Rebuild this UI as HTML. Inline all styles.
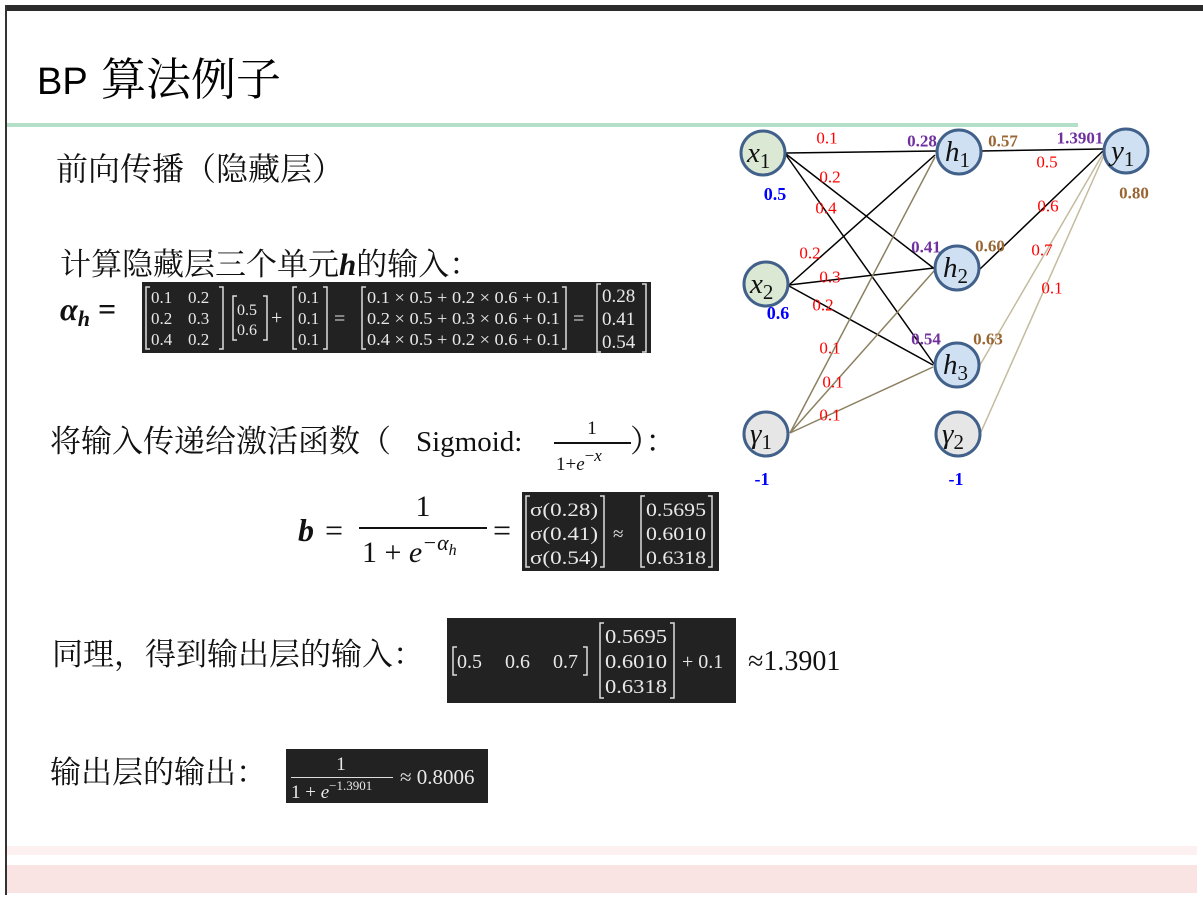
<!DOCTYPE html>
<html><head><meta charset="utf-8">
<style>
html,body{margin:0;padding:0;background:#fff;width:1203px;height:900px;overflow:hidden}
svg{display:block}
.cj{font-family:"Noto Serif CJK SC","Liberation Serif",serif;fill:#111}
.m{font-family:"Liberation Serif","DejaVu Serif",serif;fill:#e8e8e8}
.mk{font-family:"Liberation Serif","DejaVu Serif",serif;fill:#111}
.r{fill:#ff0000;font-family:"Liberation Serif",serif;font-size:17px}
.p{fill:#7030a0;font-family:"Liberation Serif",serif;font-size:17px;font-weight:bold}
.b{fill:#996633;font-family:"Liberation Serif",serif;font-size:17px;font-weight:bold}
.bl{fill:#0000ff;font-family:"Liberation Serif",serif;font-size:18px;font-weight:bold}
.nd{font-family:"Liberation Serif",serif;font-style:italic;fill:#111}
</style></head><body>
<svg width="1203" height="900" viewBox="0 0 1203 900">
<rect x="5" y="5" width="1198" height="6" fill="#2b2b2b"/>
<rect x="5" y="5" width="2" height="890" fill="#333"/>
<rect x="7" y="123" width="1071" height="4" fill="#b4dfc8"/>
<rect x="7" y="846" width="1190" height="9" fill="#fdf0f0"/>
<rect x="7" y="865" width="1190" height="28" fill="#f9e3e3"/>
<text x="37" y="94" font-size="38" font-family="Liberation Sans,sans-serif" fill="#000">BP</text>
<text x="101" y="95" font-size="45" font-family="'Noto Serif CJK SC',serif" fill="#000">算法例子</text>

<text class="cj" x="56" y="180" font-size="32">前向传播（隐藏层）</text>
<text class="cj" x="60" y="275" font-size="31">计算隐藏层三个单元<tspan font-family="Liberation Serif,serif" font-weight="bold" font-style="italic">h</tspan>的输入：</text>
<text class="mk" x="60" y="320" font-size="32" font-weight="bold" font-style="italic">α<tspan font-size="22" dy="6">h</tspan><tspan dy="-6" font-style="normal"> =</tspan></text>

<rect x="142" y="282" width="509" height="71" fill="#222"/>
<g class="m" font-size="17">
<path d="M150 287h-4v62h4M219 287h4v62h-4" stroke="#ddd" stroke-width="1.5" fill="none"/>
<text x="151" y="303">0.1</text><text x="188" y="303">0.2</text>
<text x="151" y="324">0.2</text><text x="188" y="324">0.3</text>
<text x="151" y="345">0.4</text><text x="188" y="345">0.2</text>
<path d="M237 296h-4v44h4M263 296h4v44h-4" stroke="#ddd" stroke-width="1.5" fill="none"/>
<text x="237" y="315" font-size="16">0.5</text><text x="237" y="335" font-size="16">0.6</text>
<text x="271" y="324" font-size="20">+</text>
<path d="M297 287h-4v62h4M323 287h4v62h-4" stroke="#ddd" stroke-width="1.5" fill="none"/>
<text x="298" y="303">0.1</text><text x="298" y="324">0.1</text><text x="298" y="345">0.1</text>
<text x="334" y="325" font-size="20">=</text>
<path d="M366 287h-4v62h4M562 287h4v62h-4" stroke="#ddd" stroke-width="1.5" fill="none"/>
<text x="367" y="303" textLength="193" lengthAdjust="spacingAndGlyphs">0.1 × 0.5 + 0.2 × 0.6 + 0.1</text>
<text x="367" y="324" textLength="193" lengthAdjust="spacingAndGlyphs">0.2 × 0.5 + 0.3 × 0.6 + 0.1</text>
<text x="367" y="345" textLength="193" lengthAdjust="spacingAndGlyphs">0.4 × 0.5 + 0.2 × 0.6 + 0.1</text>
<text x="573" y="325" font-size="20">=</text>
<path d="M601 284h-4v68h4M642 284h4v68h-4" stroke="#ddd" stroke-width="1.5" fill="none"/>
<text x="602" y="302" font-size="19">0.28</text><text x="602" y="325" font-size="19">0.41</text><text x="602" y="348" font-size="19">0.54</text>
</g>

<text class="cj" x="50" y="452" font-size="31">将输入传递给激活函数（</text>
<text class="mk" x="416" y="451" font-size="29">Sigmoid:</text>
<text class="mk" x="592" y="434" font-size="19" text-anchor="middle">1</text>
<rect x="554" y="442" width="77" height="2" fill="#111"/>
<text class="mk" x="556" y="470" font-size="19">1+<tspan font-style="italic">e</tspan><tspan font-size="17" dy="-9">−<tspan font-style="italic">x</tspan></tspan></text>
<text class="cj" x="630" y="452" font-size="31">）：</text>

<text class="mk" x="298" y="541" font-size="32" font-weight="bold" font-style="italic">b</text>
<text class="mk" x="325" y="541" font-size="32">=</text>
<text class="mk" x="423" y="516" font-size="30" text-anchor="middle">1</text>
<rect x="359" y="527" width="128" height="2" fill="#111"/>
<text class="mk" x="362" y="562" font-size="30">1 + <tspan font-style="italic">e</tspan><tspan font-size="22" dy="-12" font-style="italic">−α<tspan font-size="16" dy="5">h</tspan></tspan></text>
<text class="mk" x="493" y="541" font-size="32">=</text>

<rect x="522" y="492" width="197" height="79" fill="#222"/>
<g class="m" font-size="19">
<path d="M530 496h-4v71h4M600 496h4v71h-4" stroke="#ddd" stroke-width="1.5" fill="none"/>
<text x="530" y="516" textLength="68" lengthAdjust="spacingAndGlyphs">σ(0.28)</text><text x="530" y="540" textLength="68" lengthAdjust="spacingAndGlyphs">σ(0.41)</text><text x="530" y="564" textLength="68" lengthAdjust="spacingAndGlyphs">σ(0.54)</text>
<text x="613" y="540">≈</text>
<path d="M645 496h-4v71h4M708 496h4v71h-4" stroke="#ddd" stroke-width="1.5" fill="none"/>
<text x="646" y="516" textLength="60" lengthAdjust="spacingAndGlyphs">0.5695</text><text x="646" y="540" textLength="60" lengthAdjust="spacingAndGlyphs">0.6010</text><text x="646" y="564" textLength="60" lengthAdjust="spacingAndGlyphs">0.6318</text>
</g>

<text class="cj" x="52" y="665" font-size="31">同理，得到输出层的输入：</text>
<rect x="447" y="618" width="289" height="85" fill="#222"/>
<g class="m" font-size="20">
<path d="M457 647h-4v28h4M583 647h4v28h-4" stroke="#ddd" stroke-width="1.5" fill="none"/>
<text x="457" y="668">0.5</text><text x="505" y="668">0.6</text><text x="553" y="668">0.7</text>
<path d="M604 623h-4v75h4M670 623h4v75h-4" stroke="#ddd" stroke-width="1.5" fill="none"/>
<text x="605" y="643" textLength="62" lengthAdjust="spacingAndGlyphs">0.5695</text><text x="605" y="668" textLength="62" lengthAdjust="spacingAndGlyphs">0.6010</text><text x="605" y="693" textLength="62" lengthAdjust="spacingAndGlyphs">0.6318</text>
<text x="682" y="668">+ 0.1</text>
</g>
<text class="mk" x="748" y="670" font-size="28">≈1.3901</text>

<text class="cj" x="50" y="783" font-size="31">输出层的输出：</text>
<rect x="286" y="749" width="202" height="54" fill="#222"/>
<g class="m">
<text x="341" y="770" font-size="19" text-anchor="middle">1</text>
<rect x="291" y="777" width="102" height="1" fill="#ddd"/>
<text x="291" y="798" font-size="19">1 + <tspan font-style="italic">e</tspan><tspan font-size="13" dy="-8">−1.3901</tspan></text>
<text x="400" y="784" font-size="21">≈ 0.8006</text>
</g>

<g stroke="#000" stroke-width="1.5" fill="none">
<line x1="786" y1="153" x2="937" y2="151"/>
<line x1="786" y1="154" x2="936" y2="270"/>
<line x1="786" y1="155" x2="934" y2="364"/>
<line x1="789" y1="285" x2="935" y2="155"/>
<line x1="789" y1="285" x2="934" y2="268"/>
<line x1="789" y1="286" x2="933" y2="365"/>
<line x1="981" y1="151" x2="1103" y2="149"/>
<line x1="980" y1="269" x2="1104" y2="150"/>
</g>
<g stroke="#8b8060" stroke-width="1.5" fill="none">
<line x1="790" y1="433" x2="935" y2="157"/>
<line x1="790" y1="433" x2="934" y2="271"/>
<line x1="790" y1="433" x2="933" y2="367"/>
</g>
<g stroke="#c4bb9e" stroke-width="1.5" fill="none">
<line x1="980" y1="365" x2="1104" y2="152"/>
<line x1="981" y1="432" x2="1105" y2="153"/>
</g>
<g stroke="#41608a" stroke-width="3">
<circle cx="763" cy="153" r="22" fill="#dbe8d4"/>
<circle cx="766" cy="284" r="22" fill="#dbe8d4"/>
<circle cx="766" cy="434" r="22" fill="#e6e6e6"/>
<circle cx="959" cy="152" r="22" fill="#cfe0f3"/>
<circle cx="957" cy="268" r="22" fill="#cfe0f3"/>
<circle cx="957" cy="365" r="22" fill="#cfe0f3"/>
<circle cx="958" cy="434" r="22" fill="#e6e6e6"/>
<circle cx="1126" cy="151" r="22" fill="#cfe0f3"/>
</g>
<g class="nd" font-size="29">
<text x="747" y="162">x<tspan font-size="21" font-style="normal" dy="6">1</tspan></text>
<text x="750" y="293">x<tspan font-size="21" font-style="normal" dy="6">2</tspan></text>
<text x="750" y="443">γ<tspan font-size="21" font-style="normal" dy="6">1</tspan></text>
<text x="945" y="161">h<tspan font-size="21" font-style="normal" dy="6">1</tspan></text>
<text x="943" y="277">h<tspan font-size="21" font-style="normal" dy="6">2</tspan></text>
<text x="943" y="374">h<tspan font-size="21" font-style="normal" dy="6">3</tspan></text>
<text x="942" y="443">γ<tspan font-size="21" font-style="normal" dy="6">2</tspan></text>
<text x="1111" y="160">y<tspan font-size="21" font-style="normal" dy="6">1</tspan></text>
</g>
<g text-anchor="middle" dominant-baseline="central">
<text class="r" x="827" y="138">0.1</text>
<text class="r" x="830" y="177">0.2</text>
<text class="r" x="826" y="208">0.4</text>
<text class="r" x="810" y="253">0.2</text>
<text class="r" x="830" y="277">0.3</text>
<text class="r" x="823" y="305">0.2</text>
<text class="r" x="830" y="348">0.1</text>
<text class="r" x="833" y="382">0.1</text>
<text class="r" x="830" y="415">0.1</text>
<text class="r" x="1047" y="162">0.5</text>
<text class="r" x="1048" y="206">0.6</text>
<text class="r" x="1042" y="250">0.7</text>
<text class="r" x="1052" y="288">0.1</text>
<text class="p" x="922" y="141">0.28</text>
<text class="p" x="926" y="247">0.41</text>
<text class="p" x="926" y="339">0.54</text>
<text class="p" x="1080" y="138">1.3901</text>
<text class="b" x="1003" y="141">0.57</text>
<text class="b" x="990" y="246">0.60</text>
<text class="b" x="988" y="339">0.63</text>
<text class="b" x="1134" y="193">0.80</text>
<text class="bl" x="775" y="194">0.5</text>
<text class="bl" x="778" y="313">0.6</text>
<text class="bl" x="762" y="479" font-size="21">-1</text>
<text class="bl" x="956" y="479" font-size="21">-1</text>
</g>
</svg>
</body></html>
